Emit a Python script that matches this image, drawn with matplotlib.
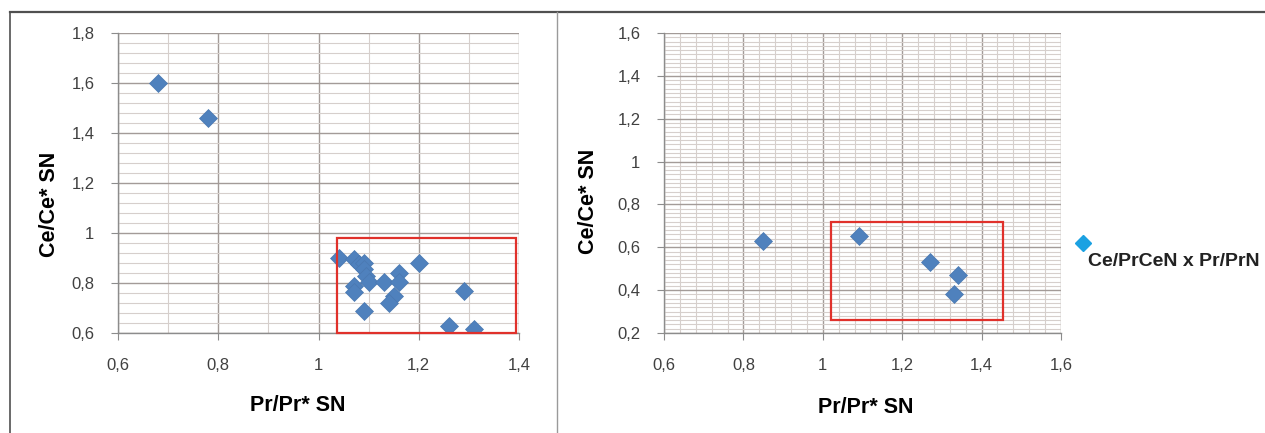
import matplotlib.pyplot as plt
from matplotlib.ticker import MultipleLocator, FuncFormatter
from matplotlib.patches import Rectangle

# data
left_x = [0.68, 0.78, 1.04, 1.07, 1.08, 1.09, 1.09, 1.095, 1.10, 1.13, 1.16, 1.16, 1.20,
          1.07, 1.07, 1.15, 1.14, 1.09, 1.29, 1.26, 1.31]
left_y = [1.60, 1.46, 0.90, 0.895, 0.875, 0.88, 0.855, 0.83, 0.805, 0.805, 0.84, 0.805, 0.88,
          0.79, 0.765, 0.75, 0.72, 0.69, 0.77, 0.63, 0.615]
right_x = [0.85, 1.09, 1.27, 1.34, 1.33]
right_y = [0.63, 0.655, 0.53, 0.47, 0.38]

left_box = (1.036, 0.60, 1.395, 0.98)   # x0, y0, x1, y1
right_box = (1.02, 0.26, 1.455, 0.718)

xlabel = "Pr/Pr* SN"
ylabel = "Ce/Ce* SN"
legend_label = "Ce/PrCeN x Pr/PrN"

W, H = 1265, 433
plt.rcParams['font.family'] = ['Liberation Sans', 'DejaVu Sans']
fig = plt.figure(figsize=(W / 100, H / 100), dpi=100)
fig.patch.set_facecolor('white')

comma = FuncFormatter(lambda v, p: f"{v:g}".replace('.', ','))


def make_axes(px_left, px_right, px_top, px_bottom):
    return fig.add_axes([px_left / W, 1 - px_bottom / H,
                         (px_right - px_left) / W, (px_bottom - px_top) / H])


def style(ax, xlim, ylim, xminor, yminor, xlab_pos, ylab_pos):
    ax.set_xlim(*xlim)
    ax.set_ylim(*ylim)
    ax.xaxis.set_major_locator(MultipleLocator(0.2))
    ax.yaxis.set_major_locator(MultipleLocator(0.2))
    ax.xaxis.set_minor_locator(MultipleLocator(xminor))
    ax.yaxis.set_minor_locator(MultipleLocator(yminor))
    ax.xaxis.set_major_formatter(comma)
    ax.yaxis.set_major_formatter(comma)
    ax.grid(True, which='minor', color='#d6cfcc', lw=0.8)
    ax.grid(True, which='major', color='#a39b98', lw=1.0)
    ax.set_axisbelow(True)
    for s in ['top', 'right']:
        ax.spines[s].set_visible(False)
    for s in ['left', 'bottom']:
        ax.spines[s].set_color('#8c8c8c')
        ax.spines[s].set_linewidth(1.0)
    ax.tick_params(which='major', direction='out', length=5, color='#8c8c8c',
                   labelsize=12, labelcolor='#404040')
    ax.tick_params(axis='y', pad=12)
    ax.tick_params(axis='x', pad=13)
    ax.tick_params(which='minor', length=0)
    ax.set_xlabel(xlabel, fontsize=15.5, fontweight='bold', va='center')
    ax.set_ylabel(ylabel, fontsize=15.5, fontweight='bold', va='center')
    ax.xaxis.set_label_coords(*xlab_pos)
    ax.yaxis.set_label_coords(*ylab_pos)


ax1 = make_axes(118, 519, 33, 333)
style(ax1, (0.6, 1.4), (0.6, 1.8), 0.1, 0.04, (0.449, -0.243), (-0.17, 0.43))
ax1.plot(left_x, left_y, 'D', ms=9, color='#4f81bd', mec='#4a78b0', mew=0.5, zorder=3)
ax1.add_patch(Rectangle((left_box[0], left_box[1]), left_box[2] - left_box[0],
                        left_box[3] - left_box[1], fill=False, ec='#e0312b', lw=1.6,
                        zorder=4, clip_on=False))

ax2 = make_axes(664, 1061, 33, 333)
style(ax2, (0.6, 1.6), (0.2, 1.6), 0.04, 0.02, (0.509, -0.247), (-0.189, 0.44))
ax2.plot(right_x, right_y, 'D', ms=9, color='#4f81bd', mec='#4a78b0', mew=0.5, zorder=3)
ax2.add_patch(Rectangle((right_box[0], right_box[1]), right_box[2] - right_box[0],
                        right_box[3] - right_box[1], fill=False, ec='#e0312b', lw=1.6,
                        zorder=4, clip_on=False))

# overlay in pixel units for the frame and the legend key
ov = fig.add_axes([0, 0, 1, 1], facecolor='none')
ov.set_xlim(0, W)
ov.set_ylim(H, 0)
ov.axis('off')
ov.plot([10, W], [12, 12], color='#505050', lw=1.6)
ov.plot([10, 10], [12, H], color='#505050', lw=1.2)
ov.plot([557, 557], [12, H], color='#9a9a9a', lw=1.0)
ov.plot([1083], [243], 'D', ms=8, color='#1ba1e2', mec='#1ba1e2')
ov.text(1088, 262, legend_label, fontsize=14, fontweight='bold', va='center', ha='left',
        color='#222222')

fig.savefig('out.png', dpi=100, facecolor='white')
